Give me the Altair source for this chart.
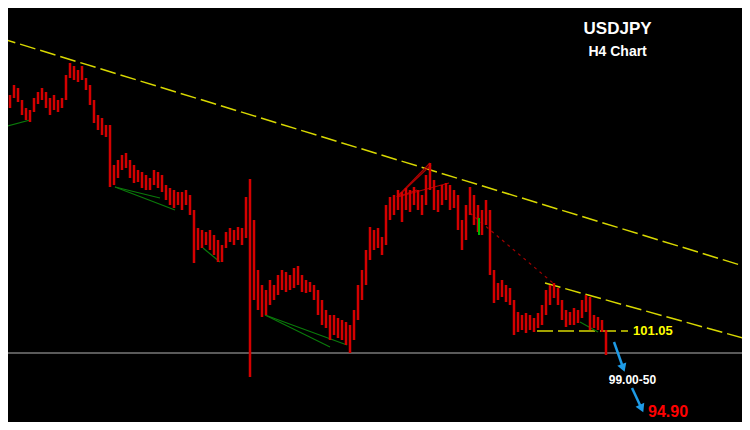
import altair as alt
import pandas as pd

# H4 candles (high / low, price), one entry per bar
bar_high = [110.77, 110.57, 110.49, 110.89, 110.77, 110.29, 109.97, 109.89, 110.37, 110.61,
            110.77, 110.61, 110.37, 110.49, 110.29, 110.37, 111.29, 111.77, 111.65, 111.49,
            111.65, 111.17, 110.89, 110.29, 109.69, 109.57, 109.29, 109.29, 107.69, 107.89,
            108.09, 108.17, 107.89, 107.69, 107.49, 107.41, 107.29, 107.17, 107.49, 107.41,
            107.29, 106.89, 106.77, 106.69, 106.61, 106.61, 106.69, 106.49, 105.89, 105.17,
            105.09, 105.01, 105.09, 104.89, 104.69, 104.49, 105.01, 105.17, 105.09, 105.21,
            105.17, 106.41, 107.13, 105.49, 103.49, 102.89, 102.69, 103.09, 102.89, 103.29,
            103.49, 103.41, 103.29, 103.57, 103.65, 103.29, 103.09, 103.01, 102.89, 102.69,
            102.29, 101.89, 101.69, 101.69, 101.57, 101.49, 101.41, 101.29, 101.89, 102.89,
            103.49, 104.29, 105.21, 105.09, 105.17, 104.81, 106.09, 106.41, 106.49, 106.69,
            106.61, 106.77, 106.69, 106.81, 106.69, 106.49, 107.29, 107.77, 107.09, 106.69,
            106.89, 106.97, 106.89, 106.69, 106.49, 105.49, 106.09, 106.81, 106.49, 106.09,
            105.89, 106.29, 105.89, 103.49, 102.97, 103.09, 102.89, 102.77, 102.29, 101.81,
            101.69, 101.77, 101.69, 101.57, 101.77, 102.09, 102.69, 102.89, 102.97, 102.77,
            102.29, 101.89, 101.81, 101.97, 101.89, 102.29, 102.49, 102.41, 101.69, 101.61,
            101.49, 101.09]
bar_low = [110.29, 110.01, 109.97, 110.37, 110.21, 109.69, 109.49, 109.41, 109.81, 110.13,
           110.29, 109.97, 109.69, 109.89, 109.81, 109.97, 110.29, 111.17, 111.09, 111.01,
           111.09, 110.69, 110.09, 109.37, 109.09, 108.89, 108.81, 106.81, 106.89, 107.17,
           107.49, 107.57, 107.17, 106.97, 107.01, 106.77, 106.69, 106.69, 106.89, 106.77,
           106.61, 106.29, 106.09, 105.97, 106.09, 105.89, 106.09, 105.69, 103.77, 104.29,
           104.37, 104.49, 104.29, 104.09, 103.81, 103.81, 104.37, 104.61, 104.49, 104.69,
           104.49, 104.77, 99.21, 102.29, 101.89, 101.61, 101.69, 102.09, 102.29, 102.49,
           102.69, 102.61, 102.69, 102.77, 102.89, 102.61, 102.57, 102.61, 102.29, 101.69,
           101.29, 101.17, 100.69, 100.89, 100.77, 100.69, 100.49, 100.17, 100.69, 101.49,
           102.29, 102.89, 103.89, 104.29, 104.37, 104.09, 104.49, 105.49, 105.69, 105.89,
           105.41, 105.89, 105.81, 106.09, 105.89, 105.69, 106.09, 106.69, 105.89, 105.81,
           106.09, 106.29, 105.89, 105.97, 105.09, 104.29, 104.69, 105.69, 105.29, 105.01,
           104.89, 105.29, 103.29, 102.17, 102.29, 102.41, 102.21, 102.09, 100.89, 101.01,
           101.09, 100.97, 101.09, 101.01, 101.17, 101.29, 101.69, 102.09, 102.37, 102.09,
           101.49, 101.21, 101.29, 101.29, 101.37, 101.57, 101.81, 101.09, 101.17, 101.09,
           101.01, 100.09]

# single up (green) candle
up_bar_x = [119.25]
up_bar_high = [105.57]
up_bar_low = [104.89]

# drawn lines: (x1, p1, x2, p2) in bar index / price
yellow_dash_x1 = [-0.5, 135.75, 133.75]
yellow_dash_p1 = [112.77, 102.97, 101.05]
yellow_dash_x2 = [187.0, 187.0, 156.5]
yellow_dash_p2 = [103.57, 100.69, 101.05]

green_x1 = [-0.5, 28.25, 28.25, 50.25, 65.75, 65.75, 144.5]
green_p1 = [109.17, 106.81, 106.81, 104.37, 101.69, 101.69, 101.41]
green_x2 = [7.0, 39.5, 43.25, 54.5, 82.0, 86.25, 149.0]
green_p2 = [109.49, 106.37, 105.89, 103.81, 100.41, 100.49, 101.01]

red_x1 = [98.75, 98.75, 98.75, 98.75]
red_p1 = [106.41, 106.41, 106.41, 106.41]
red_x2 = [107.0, 107.25, 111.75, 103.75]
red_p2 = [107.77, 107.69, 106.97, 106.69]

red_dot_x1 = [117.0]
red_dot_p1 = [105.77]
red_dot_x2 = [137.75]
red_dot_p2 = [102.97]

grey_level = [100.17]

arrow_x1 = [153.0, 157.5]
arrow_p1 = [100.61, 98.77]
arrow_x2 = [155.3, 159.9]
arrow_p2 = [99.57, 97.95]
arrow_angle = [340, 336]

# labels
label_text = ["USDJPY", "H4 Chart", "101.05", "99.00-50", "94.90"]
label_x = [153.9, 153.9, 157.75, 157.6, 161.5]
label_p = [113.13, 112.21, 101.05, 99.09, 97.83]
label_color = ["#ffffff", "#ffffff", "#ffff00", "#ffffff", "#ff0000"]
label_size = [17, 14, 13, 12, 16]
label_align = ["center", "center", "left", "center", "left"]

XDOM = [1.5, 185.0]
YDOM = [97.41, 113.97]

bars = pd.DataFrame({"i": list(range(len(bar_high))), "hi": bar_high, "lo": bar_low})
xs = alt.Scale(domain=XDOM, nice=False, zero=False)
ys = alt.Scale(domain=YDOM, nice=False, zero=False)


def seg_df(x1, p1, x2, p2):
    return pd.DataFrame({"x": x1, "y": p1, "x2": x2, "y2": p2})


def seg_layer(df, color, width, dash=None):
    kw = dict(color=color, strokeWidth=width)
    if dash:
        kw["strokeDash"] = dash
    return alt.Chart(df).mark_rule(**kw).encode(
        x=alt.X("x:Q", scale=xs, axis=None),
        y=alt.Y("y:Q", scale=ys, axis=None),
        x2="x2:Q", y2="y2:Q")


grey = alt.Chart(pd.DataFrame({"p": grey_level})).mark_rule(color="#b4b4b4", strokeWidth=1).encode(
    y=alt.Y("p:Q", scale=ys, axis=None))

candles = alt.Chart(bars).mark_rule(color="#d40000", strokeWidth=2.5).encode(
    x=alt.X("i:Q", scale=xs, axis=None),
    y=alt.Y("hi:Q", scale=ys, axis=None),
    y2="lo:Q")

upc = alt.Chart(pd.DataFrame({"i": up_bar_x, "hi": up_bar_high, "lo": up_bar_low})).mark_rule(
    color="#00b000", strokeWidth=2).encode(
    x=alt.X("i:Q", scale=xs, axis=None),
    y=alt.Y("hi:Q", scale=ys, axis=None),
    y2="lo:Q")

yellow = seg_layer(seg_df(yellow_dash_x1, yellow_dash_p1, yellow_dash_x2, yellow_dash_p2),
                   "#d8d800", 1.5, [16, 5])
green = seg_layer(seg_df(green_x1, green_p1, green_x2, green_p2), "#0a7a0a", 1.2)
red = seg_layer(seg_df(red_x1, red_p1, red_x2, red_p2), "#b00000", 1.2)
reddot = seg_layer(seg_df(red_dot_x1, red_dot_p1, red_dot_x2, red_dot_p2), "#a00000", 1.2, [3, 4])
arrows = seg_layer(seg_df(arrow_x1, arrow_p1, arrow_x2, arrow_p2), "#1e9be6", 2.5)

heads = alt.Chart(pd.DataFrame({"x": arrow_x2, "y": arrow_p2, "a": arrow_angle})).mark_point(
    shape="triangle-down", filled=True, color="#1e9be6", size=90, opacity=1).encode(
    x=alt.X("x:Q", scale=xs, axis=None),
    y=alt.Y("y:Q", scale=ys, axis=None),
    angle=alt.Angle("a:Q", scale=None))

labels = pd.DataFrame({"t": label_text, "x": label_x, "y": label_p, "c": label_color,
                       "s": label_size, "al": label_align})
texts = []
for al in ["center", "left"]:
    sub = labels[labels["al"] == al]
    texts.append(alt.Chart(sub).mark_text(font="Liberation Sans", fontWeight="bold", align=al,
                                          baseline="middle").encode(
        x=alt.X("x:Q", scale=xs, axis=None),
        y=alt.Y("y:Q", scale=ys, axis=None),
        text="t:N",
        color=alt.Color("c:N", scale=None),
        size=alt.Size("s:Q", scale=None)))

chart = alt.layer(grey, yellow, green, red, reddot, candles, upc, arrows, heads, *texts).properties(
    width=734, height=414, background="#000000", padding=0, autosize="none"
).configure_view(stroke=None)

chart.save("out.html", embed_options={"renderer": "svg", "actions": False})
